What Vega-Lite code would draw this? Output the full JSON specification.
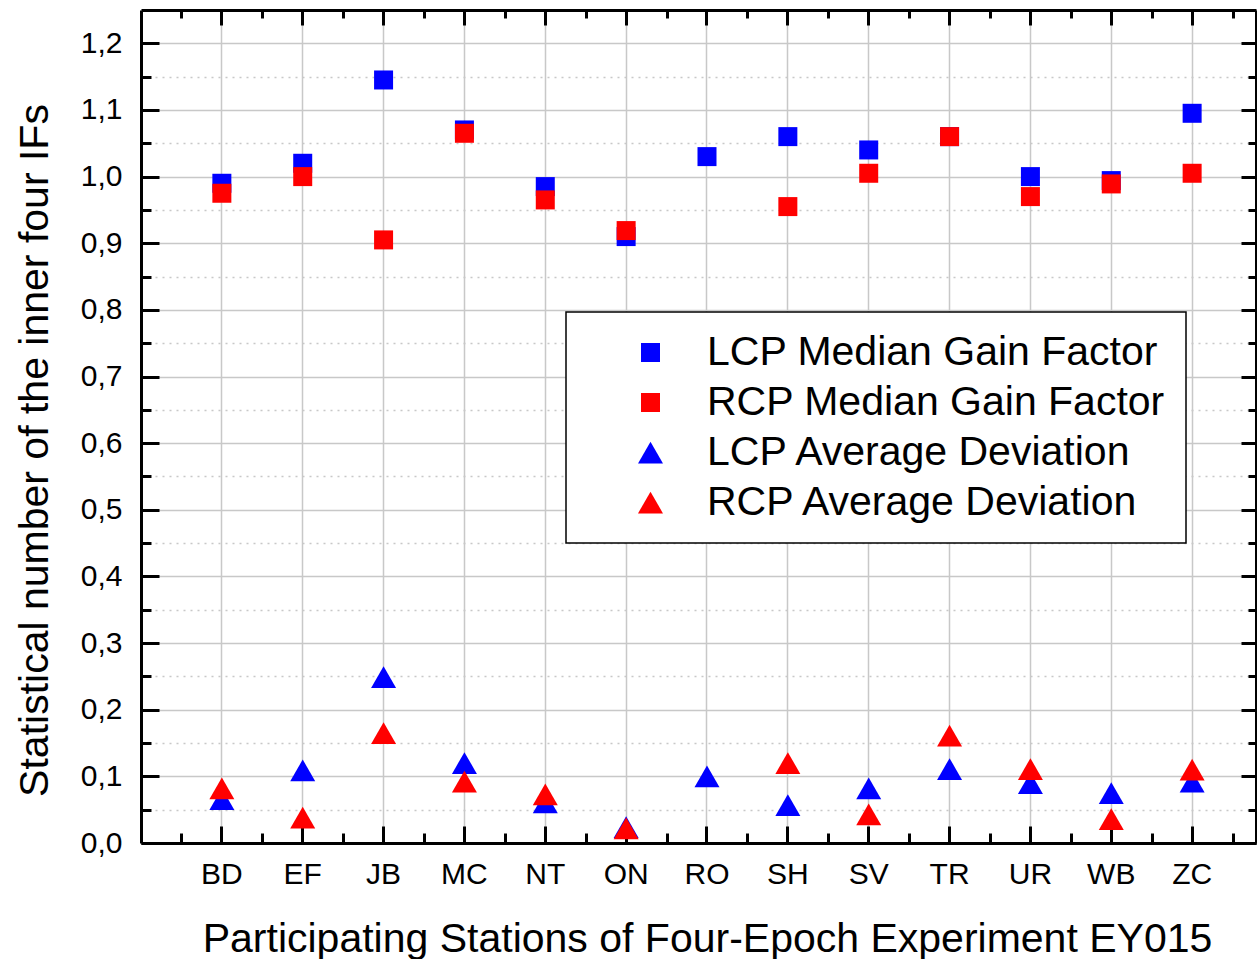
{
  "$schema": "https://vega.github.io/schema/vega-lite/v6.json",
  "autosize": {"type": "none"},
  "width": 1115,
  "height": 833,
  "padding": {"left": 141, "top": 10, "right": 1, "bottom": 116},
  "background": "white",
  "config": {
    "view": {"stroke": null},
    "font": "Liberation Sans",
    "axis": {"labelFont": "Liberation Sans", "titleFont": "Liberation Sans", "labelColor": "black", "titleColor": "black", "titleFontWeight": "normal", "domainColor": "black", "tickColor": "black", "gridColor": "#cccccc"},
    "legend": {"orient": "none", "legendX": 425, "legendY": 302, "padding": 20, "strokeColor": "black", "strokeWidth": 1.5, "fillColor": "white", "labelFont": "Liberation Sans", "labelFontSize": 41, "labelColor": "black", "symbolOffset": 44, "labelOffset": 36, "rowPadding": 8, "labelLimit": 0, "symbolStrokeWidth": 0, "symbolSize": 625}
  },
  "data": {"values": [
    {"station": "BD", "series": "LCP Median Gain Factor", "value": 0.99},
    {"station": "EF", "series": "LCP Median Gain Factor", "value": 1.02},
    {"station": "JB", "series": "LCP Median Gain Factor", "value": 1.145},
    {"station": "MC", "series": "LCP Median Gain Factor", "value": 1.07},
    {"station": "NT", "series": "LCP Median Gain Factor", "value": 0.985},
    {"station": "ON", "series": "LCP Median Gain Factor", "value": 0.91},
    {"station": "RO", "series": "LCP Median Gain Factor", "value": 1.03},
    {"station": "SH", "series": "LCP Median Gain Factor", "value": 1.06},
    {"station": "SV", "series": "LCP Median Gain Factor", "value": 1.04},
    {"station": "TR", "series": "LCP Median Gain Factor", "value": 1.06},
    {"station": "UR", "series": "LCP Median Gain Factor", "value": 1.0},
    {"station": "WB", "series": "LCP Median Gain Factor", "value": 0.994},
    {"station": "ZC", "series": "LCP Median Gain Factor", "value": 1.095},
    {"station": "BD", "series": "LCP Average Deviation", "value": 0.066},
    {"station": "EF", "series": "LCP Average Deviation", "value": 0.109},
    {"station": "JB", "series": "LCP Average Deviation", "value": 0.249},
    {"station": "MC", "series": "LCP Average Deviation", "value": 0.12},
    {"station": "NT", "series": "LCP Average Deviation", "value": 0.061},
    {"station": "ON", "series": "LCP Average Deviation", "value": 0.024},
    {"station": "RO", "series": "LCP Average Deviation", "value": 0.1},
    {"station": "SH", "series": "LCP Average Deviation", "value": 0.057},
    {"station": "SV", "series": "LCP Average Deviation", "value": 0.082},
    {"station": "TR", "series": "LCP Average Deviation", "value": 0.111},
    {"station": "UR", "series": "LCP Average Deviation", "value": 0.09},
    {"station": "WB", "series": "LCP Average Deviation", "value": 0.075},
    {"station": "ZC", "series": "LCP Average Deviation", "value": 0.092},
    {"station": "BD", "series": "RCP Median Gain Factor", "value": 0.975},
    {"station": "EF", "series": "RCP Median Gain Factor", "value": 1.0},
    {"station": "JB", "series": "RCP Median Gain Factor", "value": 0.905},
    {"station": "MC", "series": "RCP Median Gain Factor", "value": 1.065},
    {"station": "NT", "series": "RCP Median Gain Factor", "value": 0.965},
    {"station": "ON", "series": "RCP Median Gain Factor", "value": 0.919},
    {"station": "SH", "series": "RCP Median Gain Factor", "value": 0.955},
    {"station": "SV", "series": "RCP Median Gain Factor", "value": 1.005},
    {"station": "TR", "series": "RCP Median Gain Factor", "value": 1.06},
    {"station": "UR", "series": "RCP Median Gain Factor", "value": 0.97},
    {"station": "WB", "series": "RCP Median Gain Factor", "value": 0.989},
    {"station": "ZC", "series": "RCP Median Gain Factor", "value": 1.005},
    {"station": "BD", "series": "RCP Average Deviation", "value": 0.082},
    {"station": "EF", "series": "RCP Average Deviation", "value": 0.038},
    {"station": "JB", "series": "RCP Average Deviation", "value": 0.165},
    {"station": "MC", "series": "RCP Average Deviation", "value": 0.092},
    {"station": "NT", "series": "RCP Average Deviation", "value": 0.073},
    {"station": "ON", "series": "RCP Average Deviation", "value": 0.022},
    {"station": "SH", "series": "RCP Average Deviation", "value": 0.12},
    {"station": "SV", "series": "RCP Average Deviation", "value": 0.043},
    {"station": "TR", "series": "RCP Average Deviation", "value": 0.161},
    {"station": "UR", "series": "RCP Average Deviation", "value": 0.111},
    {"station": "WB", "series": "RCP Average Deviation", "value": 0.036},
    {"station": "ZC", "series": "RCP Average Deviation", "value": 0.11}
  ]},
  "resolve": {"axis": {"x": "independent", "y": "independent"}},
  "layer": [
    {
      "mark": {"type": "point", "opacity": 0},
      "encoding": {
        "x": {"field": "station", "type": "nominal", "scale": {"type": "band", "domain": ["BD","EF","JB","MC","NT","ON","RO","SH","SV","TR","UR","WB","ZC"], "paddingInner": 0, "paddingOuter": 0.395, "align": 0.633},
          "axis": {"orient": "bottom", "tickBand": "extent", "labels": false, "title": null, "domain": false, "grid": false, "tickSize": -10, "tickWidth": 3}},
        "y": {"field": "value", "type": "quantitative", "scale": {"domain": [0, 1.25], "nice": false, "zero": true},
          "axis": {"orient": "left", "values": [0.05,0.15,0.25,0.35,0.45,0.55,0.65,0.75,0.85,0.95,1.05,1.15], "labels": false, "title": null, "domain": false, "grid": true, "gridDash": [2, 5], "gridWidth": 1.5, "gridColor": "#c8c8c8", "tickSize": -10, "tickWidth": 3}}
      }
    },
    {
      "mark": {"type": "point", "opacity": 0},
      "encoding": {
        "x": {"field": "station", "type": "nominal", "axis": {"orient": "top", "tickBand": "extent", "labels": false, "title": null, "domain": false, "grid": false, "tickSize": -8, "tickWidth": 3}},
        "y": {"field": "value", "type": "quantitative", "axis": {"orient": "right", "values": [0.05,0.15,0.25,0.35,0.45,0.55,0.65,0.75,0.85,0.95,1.05,1.15], "labels": false, "title": null, "domain": false, "grid": false, "tickSize": -8, "tickWidth": 3}}
      }
    },
    {
      "mark": {"type": "point", "opacity": 0},
      "encoding": {
        "x": {"field": "station", "type": "nominal", "axis": {"orient": "top", "labels": false, "title": null, "domain": true, "domainWidth": 3, "grid": false, "tickSize": -15, "tickWidth": 3}},
        "y": {"field": "value", "type": "quantitative", "axis": {"orient": "right", "values": [0,0.1,0.2,0.3,0.4,0.5,0.6,0.7,0.8,0.9,1.0,1.1,1.2], "labels": false, "title": null, "domain": true, "domainWidth": 3, "grid": false, "tickSize": -15, "tickWidth": 3}}
      }
    },
    {
      "mark": {"type": "point", "filled": true, "opacity": 1, "strokeWidth": 0, "size": 625},
      "encoding": {
        "x": {"field": "station", "type": "nominal",
          "axis": {"orient": "bottom", "title": "Participating Stations of Four-Epoch Experiment EY015", "titleFontSize": 41, "titlePadding": 30, "titleX": 566, "labelFontSize": 30, "labelAngle": 0, "labelPadding": 33, "domain": true, "domainWidth": 3, "grid": true, "gridWidth": 1.5, "gridColor": "#c8c8c8", "tickSize": -17, "tickWidth": 3}},
        "y": {"field": "value", "type": "quantitative",
          "axis": {"orient": "left", "title": "Statistical number of the inner four IFs", "titleFontSize": 41, "titleX": -85, "titleY": 440, "labelFontSize": 30, "labelPadding": 37, "values": [0,0.1,0.2,0.3,0.4,0.5,0.6,0.7,0.8,0.9,1.0,1.1,1.2], "labelExpr": "replace(format(datum.value, '.1f'), '.', ',')", "domain": true, "domainWidth": 3, "grid": true, "gridWidth": 1.5, "gridColor": "#c8c8c8", "tickSize": -18, "tickWidth": 3}},
        "color": {"field": "series", "type": "nominal", "scale": {"domain": ["LCP Median Gain Factor", "RCP Median Gain Factor", "LCP Average Deviation", "RCP Average Deviation"], "range": ["#0000ff", "#ff0000", "#0000ff", "#ff0000"]}, "legend": {"title": null}},
        "shape": {"field": "series", "type": "nominal", "scale": {"domain": ["LCP Median Gain Factor", "RCP Median Gain Factor", "LCP Average Deviation", "RCP Average Deviation"], "range": ["M-0.76,-0.76H0.76V0.76H-0.76Z", "M-0.76,-0.76H0.76V0.76H-0.76Z", "M0,-0.87L1,0.87L-1,0.87Z", "M0,-0.87L1,0.87L-1,0.87Z"]}, "legend": {"title": null}}
      }
    }
  ]
}
